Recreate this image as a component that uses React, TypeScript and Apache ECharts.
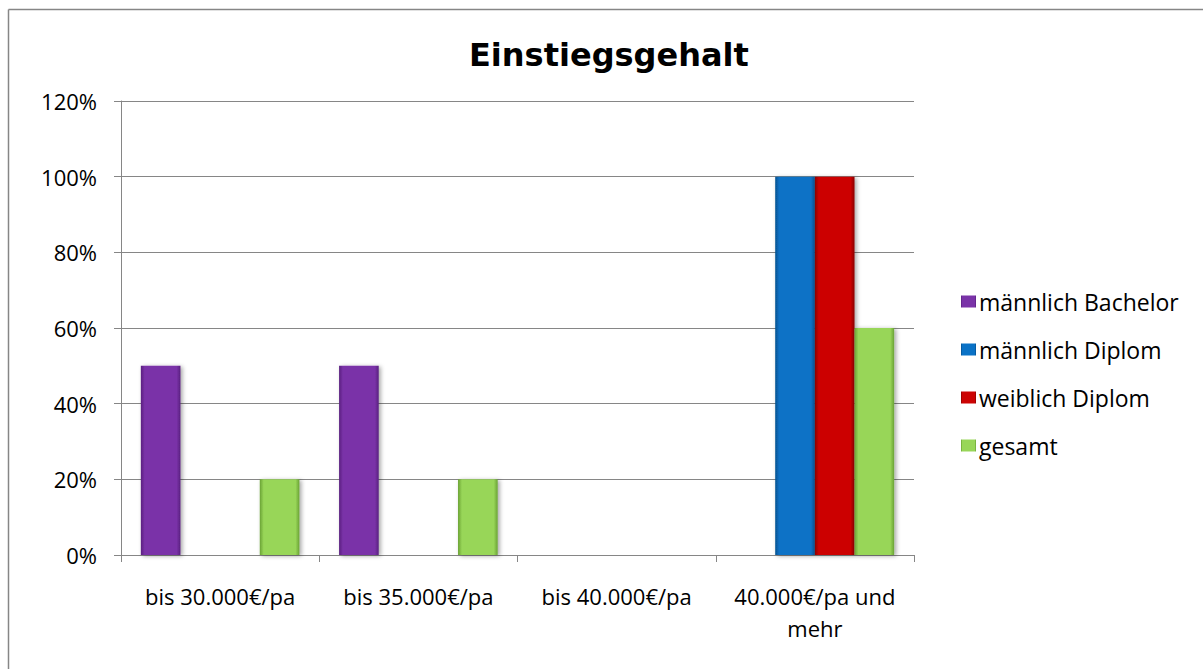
import React, { useEffect, useRef } from "react";
import * as echarts from "echarts";

const categories = ["bis 30.000€/pa", "bis 35.000€/pa", "bis 40.000€/pa", "40.000€/pa und\nmehr"];
const seriesNames = ["männlich Bachelor", "männlich Diplom", "weiblich Diplom", "gesamt"];
const maleBachelor = [0.5, 0.5, 0, 0];
const maleDiplom = [0, 0, 0, 1.0];
const femaleDiplom = [0, 0, 0, 1.0];
const total = [0.2, 0.2, 0, 0.6];
const yTicks = [0, 0.2, 0.4, 0.6, 0.8, 1.0, 1.2];

const palette = [
  { base: "#7a33a8", dark: "#5a2080", light: "#a86fd6" },
  { base: "#0a72c6", dark: "#05508f", light: "#4aa3ea" },
  { base: "#cc0404", dark: "#8a0000", light: "#f04848" },
  { base: "#98d658", dark: "#6aa234", light: "#c2ef8e" },
];

const FONT = "Open Sans";

function grad(p: { base: string; dark: string; light: string }) {
  return new echarts.graphic.LinearGradient(0, 0, 1, 0, [
    { offset: 0, color: p.dark },
    { offset: 0.1, color: p.base },
    { offset: 0.9, color: p.base },
    { offset: 1, color: p.dark },
  ]);
}

export default function App() {
  const ref = useRef<HTMLDivElement>(null);
  useEffect(() => {
    if (!ref.current) return;
    const chart = echarts.init(ref.current, undefined, { renderer: "svg" });
    const data = [maleBachelor, maleDiplom, femaleDiplom, total];
    chart.setOption({
      animation: false,
      backgroundColor: "#ffffff",
      textStyle: { fontFamily: FONT },
      title: {
        text: "Einstiegsgehalt",
        left: 469,
        top: 37,
        textStyle: { fontFamily: "DejaVu Sans", fontWeight: "bold", fontSize: 32, color: "#000", lineHeight: 36 },
        padding: 0,
      },
      graphic: [
        { type: "line", shape: { x1: 8.5, y1: 9.5, x2: 1203, y2: 9.5 }, style: { stroke: "#868686", lineWidth: 1.5 } },
        { type: "line", shape: { x1: 8.5, y1: 9.5, x2: 8.5, y2: 669 }, style: { stroke: "#868686", lineWidth: 1.5 } },
      ],
      legend: {
        orient: "vertical",
        left: 956,
        top: 285,
        itemGap: 25,
        itemWidth: 15,
        itemHeight: 12,
        icon: "rect",
        textStyle: { fontFamily: FONT, fontSize: 23, color: "#000", padding: [0, 0, 0, -2] },
        data: seriesNames,
      },
      grid: { left: 121, top: 101, right: 289, bottom: 114, containLabel: false },
      xAxis: {
        type: "category",
        data: categories,
        axisLine: { lineStyle: { color: "#868686", width: 1 } },
        axisTick: { show: true, length: 7, lineStyle: { color: "#868686" } },
        axisLabel: { fontFamily: FONT, fontSize: 22, color: "#000", margin: 25, lineHeight: 32, interval: 0 },
      },
      yAxis: {
        type: "value",
        min: 0,
        max: 1.2,
        interval: 0.2,
        axisLine: { show: true, lineStyle: { color: "#868686", width: 1 } },
        axisTick: { show: true, length: 7, lineStyle: { color: "#868686" } },
        splitLine: { show: true, lineStyle: { color: "#868686", width: 1 } },
        axisLabel: {
          fontFamily: FONT,
          fontSize: 22,
          color: "#000",
          margin: 24,
          formatter: (v: number) => {
            const idx = yTicks.findIndex((t) => Math.abs(t - v) < 1e-6);
            return idx >= 0 ? Math.round(yTicks[idx] * 100) + "%" : "";
          },
        },
      },
      series: seriesNames.map((name, i) => ({
        name,
        type: "bar",
        data: data[i],
        barGap: "0%",
        barCategoryGap: "20%",
        itemStyle: {
          color: grad(palette[i]),
          borderWidth: 0,
          shadowBlur: 4,
          shadowColor: "rgba(0,0,0,0.35)",
          shadowOffsetX: 2,
          shadowOffsetY: 1,
        },
      })),
    });
    return () => chart.dispose();
  }, []);
  return (
    <div
      ref={ref}
      style={{ position: "fixed", left: 0, top: 0, width: 1203, height: 669 }}
    />
  );
}
